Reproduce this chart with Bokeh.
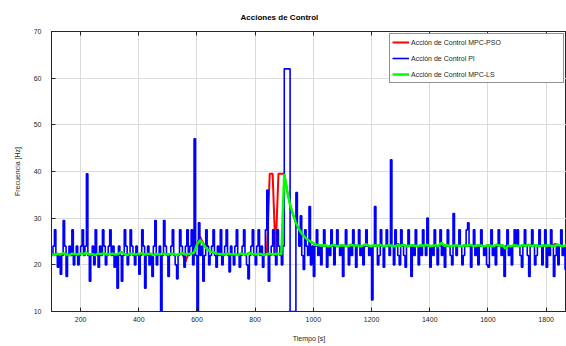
from bokeh.plotting import figure
from bokeh.models import Legend, LegendItem, LinearAxis, FixedTicker, Title
from bokeh.embed import file_html
from bokeh.resources import INLINE

# ---------------- data ----------------
time_pi = list(range(100, 1885, 5))
time_mpc = list(range(100, 1890, 10))

pi_action = [
    22, 24, 27.5, 22, 19.5, 22, 18, 22, 29.5, 24, 17.5, 22, 24, 22, 27.5, 20, 22, 24, 20, 22,
    24, 27.5, 22, 24, 39.5, 22, 16.5, 22, 24, 20, 27.5, 22, 19.5, 24, 22, 27.5, 24, 20, 22, 24,
    27.5, 22, 24, 19.5, 22, 15, 24, 22, 16.5, 22, 27.5, 24, 20, 22, 27.5, 24, 22, 20, 24, 22,
    18, 22, 27.5, 24, 15, 22, 24, 20, 22, 17.5, 24, 29.5, 20, 22, 24, 10, 22, 29.5, 24, 22,
    17.5, 22, 24, 27.5, 22, 20, 17, 22, 27.5, 24, 22, 19.5, 24, 27.5, 22, 24, 27.5, 20, 47, 22,
    10, 29, 22, 24, 16.5, 22, 27.5, 24, 20, 22, 24, 27.5, 22, 19.5, 24, 22, 27.5, 20, 22, 24,
    27.5, 22, 18.5, 24, 22, 20, 24, 27.5, 22, 19.5, 22, 24, 27.5, 22, 20, 17, 22, 24, 27.5, 22,
    20, 24, 27.5, 22, 24, 19.5, 22, 27.5, 36, 16.5, 22, 24, 27.5, 22, 20, 27.5, 24, 22, 20, 24,
    62, 62, 62, 62, 10, 10, 10, 10, 35.5, 28, 24, 30.5, 22, 19, 27.5, 24, 22, 32.5, 20, 24,
    17.5, 24, 27.5, 22, 24, 20, 24, 27.5, 24, 19.5, 24, 22, 27.5, 24, 20, 24, 27.5, 24, 22, 24,
    17.5, 24, 27.5, 24, 20, 24, 22, 27.5, 24, 19.5, 24, 27.5, 22, 24, 20, 24, 27.5, 24, 22, 24,
    12.5, 24, 32.5, 24, 20, 22, 27.5, 24, 19.5, 24, 27.5, 24, 22, 42.5, 24, 20, 27.5, 24, 22, 20,
    27.5, 24, 22, 19.5, 24, 27.5, 24, 17.5, 24, 22, 27.5, 24, 20, 24, 22, 27.5, 24, 22, 30, 24,
    19.5, 24, 22, 27.5, 24, 20, 24, 27.5, 22, 24, 19.5, 24, 27.5, 24, 22, 20, 31, 24, 22, 24,
    27.5, 24, 20, 22, 24, 27.5, 29, 24, 19.5, 24, 27.5, 22, 24, 20, 24, 27.5, 24, 22, 24, 20,
    19.5, 24, 27.5, 22, 24, 20, 24, 27.5, 24, 22, 24, 17.5, 24, 27.5, 22, 24, 20, 24, 27.5, 24,
    27.5, 24, 22, 19.5, 24, 27.5, 24, 22, 17.5, 24, 27.5, 24, 20, 22, 24, 27.5, 24, 20, 24, 27.5,
    19.5, 24, 22, 27.5, 24, 17.5, 22, 24, 20, 24, 27.5, 22, 24, 19, 24, 28, 24,
]

mpc_ls_action = [
    22.3, 22.1, 22.4, 22.2, 22.5, 22.3, 22.0, 22.4, 22.3, 22.2,
    22.4, 22.3, 22.6, 22.2, 22.3, 22.1, 22.4, 22.3, 22.5, 22.2,
    22.3, 22.4, 22.2, 22.3, 22.8, 22.3, 22.1, 22.4, 22.3, 22.2,
    22.3, 22.5, 22.2, 22.3, 22.4, 22.1, 22.3, 22.2, 22.4, 22.3,
    22.2, 22.4, 22.3, 22.1, 22.3, 22.5, 22.2, 22.3, 22.4, 22.6,
    24.3, 25.3, 24.6, 23.7, 23.1, 22.8, 22.6, 22.4, 22.3, 22.2,
    22.3, 22.4, 22.2, 22.3, 22.1, 22.4, 22.3, 22.2, 22.6, 22.3,
    22.2, 22.4, 22.3, 22.1, 22.3, 22.4, 22.2, 22.3, 22.4, 22.3,
    39.5, 35.8, 32.9, 30.8, 29.0, 27.7, 26.7, 26.0, 25.4, 25.0,
    24.6, 24.3, 24.2, 24.1, 24.2, 24.0, 24.1, 24.3, 24.0, 24.1,
    24.2, 24.1, 24.0, 24.3, 24.1, 24.2, 24.0, 24.1, 24.4, 24.1,
    24.0, 24.2, 24.1, 24.3, 24.0, 24.1, 24.2, 24.1, 24.0, 24.2,
    24.1, 24.3, 24.0, 24.1, 24.2, 24.1, 24.0, 24.2, 24.1, 24.3,
    24.0, 24.1, 24.2, 24.0, 24.7, 24.1, 24.2, 24.0, 24.1, 24.2,
    24.1, 24.0, 24.2, 24.1, 24.3, 24.0, 24.1, 24.2, 24.1, 24.0,
    24.2, 24.1, 24.0, 24.3, 24.1, 24.2, 23.5, 24.1, 24.0, 24.2,
    24.1, 24.0, 24.2, 24.1, 24.3, 24.0, 24.2, 24.1, 24.0, 24.2,
    24.1, 24.2, 24.0, 24.1, 24.3, 24.1, 24.0, 24.2, 24.6,
]

mpc_pso_action = [
    22.3, 22.2, 22.4, 22.2, 22.5, 22.3, 22.1, 22.4, 22.3, 22.2,
    22.4, 22.3, 22.6, 22.2, 22.3, 22.1, 22.4, 22.3, 22.5, 22.2,
    22.3, 22.4, 22.2, 22.3, 22.8, 22.3, 22.1, 22.4, 22.3, 22.2,
    22.3, 22.5, 22.2, 22.3, 22.4, 22.1, 22.3, 22.2, 22.4, 22.3,
    22.2, 22.4, 22.3, 22.1, 22.3, 22.5, 20.6, 22.3, 22.4, 22.6,
    24.5, 26.1, 24.8, 23.8, 23.1, 22.8, 22.6, 22.4, 22.3, 22.2,
    22.3, 22.4, 22.2, 22.3, 22.1, 22.4, 22.3, 22.2, 22.6, 22.3,
    22.2, 22.4, 22.3, 22.1, 22.3, 39.5, 39.5, 22.3, 39.5, 39.5,
    39.5, 35.8, 32.9, 30.8, 29.0, 27.7, 26.7, 26.0, 25.4, 25.0,
    24.6, 24.3, 24.2, 24.1, 24.2, 24.0, 24.1, 24.3, 24.0, 24.1,
    24.2, 24.1, 24.0, 24.3, 24.1, 24.2, 24.0, 24.1, 24.4, 24.1,
    24.0, 24.2, 24.1, 24.3, 24.0, 24.1, 24.2, 24.1, 24.0, 24.5,
    24.1, 24.3, 24.0, 24.1, 24.2, 24.1, 24.0, 24.2, 24.1, 24.3,
    24.0, 24.1, 24.2, 24.0, 24.7, 24.1, 24.2, 24.0, 24.1, 24.2,
    24.1, 24.0, 24.2, 24.1, 24.3, 24.0, 24.1, 24.2, 24.1, 24.0,
    24.2, 24.1, 24.0, 24.3, 24.1, 24.2, 23.5, 24.1, 24.0, 24.2,
    24.1, 24.0, 24.2, 24.1, 24.3, 24.0, 24.2, 24.1, 24.0, 24.2,
    24.1, 24.2, 24.0, 24.5, 24.3, 24.1, 24.0, 24.2, 24.6,
]

x_ticks = [200, 400, 600, 800, 1000, 1200, 1400, 1600, 1800]
y_ticks = [10, 20, 30, 40, 50, 60, 70]

labels = ["Acción de Control MPC-PSO", "Acción de Control PI", "Acción de Control MPC-LS"]
title_text = "Acciones de Control"
x_label = "Tiempo [s]"
y_label = "Frecuencia [Hz]"

# ---------------- figure ----------------
FONT = "Liberation Sans"
AX = "#262626"

p = figure(width=566, height=346, x_range=(100, 1870), y_range=(10, 70),
           output_backend="svg", toolbar_location=None,
           min_border_left=51, min_border_right=0, min_border_top=31,
           min_border_bottom=35, background_fill_color="white",
           border_fill_color="white")

p.title = Title(text=title_text, align="left", offset=189, standoff=20,
                text_font=FONT, text_font_size="8px", text_font_style="bold",
                text_color="black")

p.outline_line_color = AX
p.outline_line_width = 1

for ax in (p.xaxis[0], p.yaxis[0]):
    ax.axis_line_color = AX
    ax.major_tick_line_color = AX
    ax.major_tick_in = 4
    ax.major_tick_out = 0
    ax.minor_tick_line_color = None
    ax.major_label_text_font = FONT
    ax.major_label_text_font_size = "7px"
    ax.major_label_text_color = AX
    ax.axis_label_text_font = FONT
    ax.axis_label_text_font_size = "7px"
    ax.axis_label_text_font_style = "normal"
    ax.axis_label_text_color = AX

p.xaxis.ticker = FixedTicker(ticks=x_ticks)
p.yaxis.ticker = FixedTicker(ticks=y_ticks)
p.xaxis.axis_label = x_label
p.yaxis.axis_label = y_label
p.xaxis.major_label_standoff = 5
p.xaxis.axis_label_standoff = 10
p.yaxis.major_label_standoff = 10
p.yaxis.axis_label_standoff = 10

top_axis = LinearAxis(ticker=FixedTicker(ticks=x_ticks), major_label_text_font_size="0px",
                      major_label_text_color=None,
                      major_tick_in=4, major_tick_out=0, minor_tick_line_color=None,
                      axis_line_color=AX, major_tick_line_color=AX,
                      major_label_standoff=0)
p.add_layout(top_axis, "above")

p.xgrid.ticker = FixedTicker(ticks=x_ticks)
p.ygrid.ticker = FixedTicker(ticks=y_ticks)
p.grid.grid_line_color = "#dcdcdc"
p.grid.grid_line_width = 1

r_red = p.line(time_mpc, mpc_pso_action, line_color="#ff0000", line_width=2)
r_blue = p.step(time_pi, pi_action, mode="after", line_color="#0000ff", line_width=1.6)
r_green = p.line(time_mpc, mpc_ls_action, line_color="#00ff00", line_width=2.5)

legend = Legend(items=[LegendItem(label=labels[0], renderers=[r_red]),
                       LegendItem(label=labels[1], renderers=[r_blue]),
                       LegendItem(label=labels[2], renderers=[r_green])],
                location=(338, 228), orientation="vertical",
                label_text_font=FONT, label_text_font_size="7px",
                label_text_color=AX, glyph_width=17, glyph_height=12,
                label_height=12, spacing=4, padding=2, margin=0,
                label_standoff=2, label_width=150,
                border_line_color=AX, border_line_width=1,
                background_fill_color="white", background_fill_alpha=1)
p.add_layout(legend, "center")

open("out.html", "w").write(file_html(p, INLINE))
